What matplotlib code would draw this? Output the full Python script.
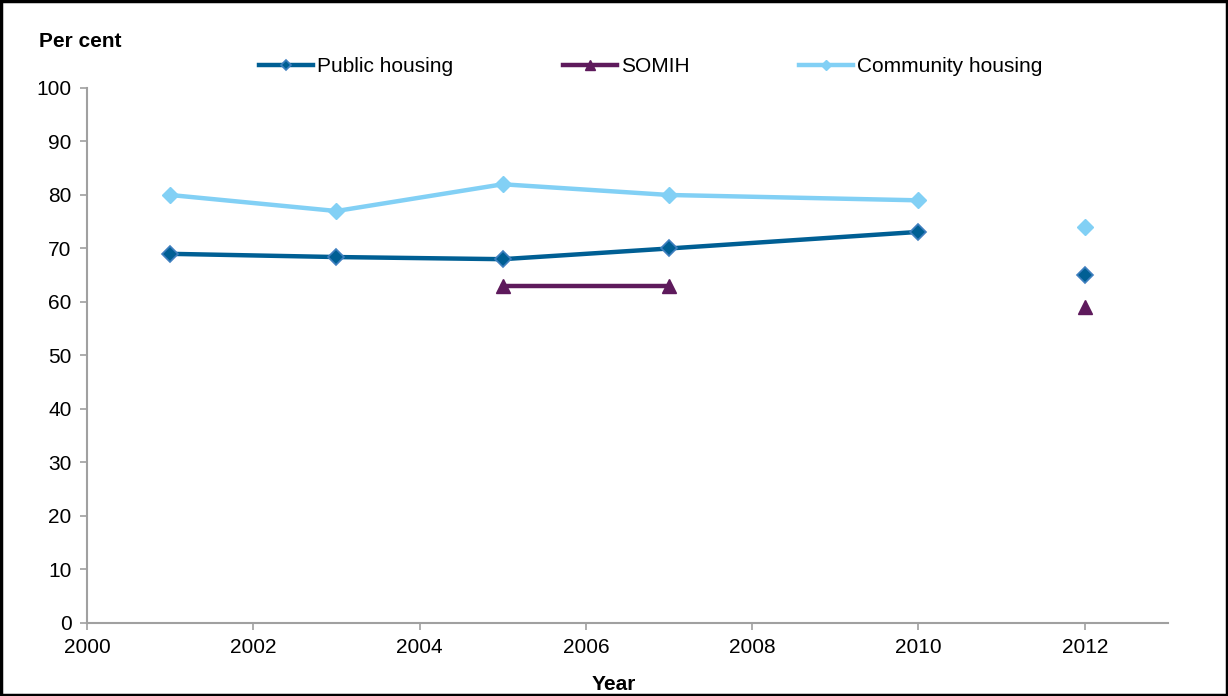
import numpy as np
import matplotlib.pyplot as plt
from matplotlib.patches import Rectangle

plt.rcParams['font.family'] = ['Liberation Sans', 'DejaVu Sans']

years = [2001, 2003, 2005, 2007, 2010, 2011, 2012]
public_housing = [69, 68.4, 68, 70, 73.1, np.nan, 65]
somih = [np.nan, np.nan, 63, 63, np.nan, np.nan, 59]
community_housing = [80, 77, 82, 80, 79, np.nan, 74]

c_public = '#005f94'
c_somih = '#5e1a5c'
c_comm = '#82d0f5'
grey = '#a0a0a0'

fig = plt.figure(figsize=(12.28, 6.96), dpi=100)
ax = fig.add_axes([0.0708, 0.1049, 0.8803, 0.7687])

ax.plot(years, community_housing, color=c_comm, lw=3.2, marker='D', ms=8,
        mfc=c_comm, mec=c_comm, label='Community housing', zorder=3)
ax.plot(years, public_housing, color=c_public, lw=3.2, marker='D', ms=8,
        mfc=c_public, mec='#3f7fbf', mew=1.2, label='Public housing', zorder=4)
ax.plot(years, somih, color=c_somih, lw=3.2, marker='^', ms=10,
        mfc=c_somih, mec=c_somih, label='SOMIH', zorder=4)

ax.set_xlim(2000, 2013)
ax.set_ylim(0, 100)
ax.set_xticks(range(2000, 2013, 2))
ax.set_yticks(range(0, 101, 10))
ax.tick_params(labelsize=15, colors='black', length=5, width=1.2, color=grey)
ax.tick_params(axis='y', pad=6)
ax.tick_params(axis='x', pad=6)
for s in ['top', 'right']:
    ax.spines[s].set_visible(False)
for s in ['left', 'bottom']:
    ax.spines[s].set_color(grey)
    ax.spines[s].set_linewidth(1.5)

fig.text(0.032, 0.941, 'Per cent', fontsize=15, fontweight='bold', va='center')
fig.text(0.5, 0.017, 'Year', fontsize=15, fontweight='bold', ha='center', va='center')

handles, labels = ax.get_legend_handles_labels()
order = [1, 2, 0]
fig.legend([handles[i] for i in order], [labels[i] for i in order],
           loc='center left', bbox_to_anchor=(0.204, 0.904), ncol=3,
           frameon=False, fontsize=15, handlelength=2.6, handletextpad=0.2,
           columnspacing=5.25, markerscale=0.7, borderaxespad=0)

fig.patches.append(Rectangle((0.001, 0.001), 0.998, 0.998, transform=fig.transFigure,
                             fill=False, edgecolor='black', lw=2.5))

fig.savefig('out.png', dpi=100)
